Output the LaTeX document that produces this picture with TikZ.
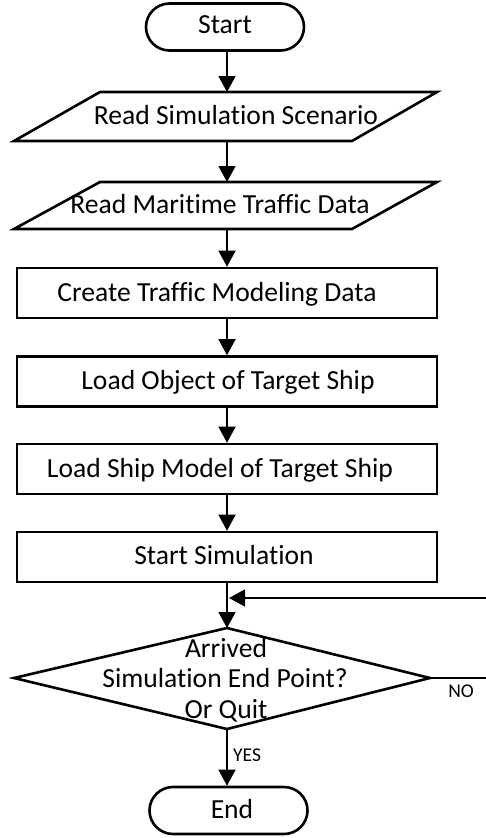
\documentclass[tikz,border=0pt]{standalone}
\usepackage{fontspec}
\setmainfont{Carlito}[Ligatures={NoCommon}]
\usetikzlibrary{arrows.meta,shapes.misc}
\begin{document}
\begin{tikzpicture}[x=1pt,y=-1pt,
  shp/.style={line width=2.6pt, line join=miter},
  term/.style={shp, draw, rounded rectangle, minimum width=158pt, minimum height=47pt, inner sep=0pt},
  procbox/.style={shp, draw, rectangle, minimum width=420pt, minimum height=50pt, inner sep=0pt},
  conn/.style={line width=1.5pt, -{Triangle[length=16pt,width=17pt]}},
  lbl/.style={font=\fontsize{27.6}{32}\selectfont, anchor=base, inner sep=0pt},
  small/.style={font=\fontsize{19.5}{23}\selectfont, anchor=base, inner sep=0pt}]
\useasboundingbox (0,0) rectangle (486,838);
\fill[white] (0,0) rectangle (486,838);

% terminals
\node[term] (start) at (225,27) {};
\node[lbl] (starttxt) at (225,33) {Start};
\node[term] (end) at (228.5,810.5) {};
\node[lbl] (endtxt) at (232,818) {End};

% parallelograms
\draw[shp] (100,92) -- (437,92) -- (352,141) -- (14,141) -- cycle;
\coordinate (p1t) at (227,92);
\coordinate (p1b) at (227,141);
\node[lbl] (p1txt) at (236,124) {Read Simulation Scenario};
\draw[shp] (100,182) -- (437,182) -- (352,229) -- (14,229) -- cycle;
\coordinate (p2t) at (227,182);
\coordinate (p2b) at (227,229);
\node[lbl] (p2txt) at (220,213) {Read Maritime Traffic Data};

% process boxes
\node[procbox] (r1) at (227,293) {};
\node[lbl] (r1txt) at (217,301) {Create Traffic Modeling Data};
\node[procbox] (r2) at (227,381.5) {};
\node[lbl] (r2txt) at (228,389) {Load Object of Target Ship};
\node[procbox] (r3) at (227,469) {};
\node[lbl] (r3txt) at (220,477) {Load Ship Model of Target Ship};
\node[procbox] (r4) at (227,557) {};
\node[lbl] (r4txt) at (224,564) {Start Simulation};

% decision
\coordinate (dt) at (227,628);
\coordinate (dr) at (430,678);
\coordinate (db) at (227,729);
\coordinate (dl) at (14,678);
\draw[shp] (dt) -- (dr) -- (db) -- (dl) -- cycle;
\node[lbl] (d1) at (226,657) {Arrived};
\node[lbl] (d2) at (225,687) {Simulation End Point?};
\node[lbl] (d3) at (226,718) {Or Quit};

% connectors
\draw[conn] (start.south -| p1t) -- (p1t);
\draw[conn] (p1b) -- (p2t);
\draw[conn] (p2b) -- (r1.north);
\draw[conn] (r1.south) -- (r2.north);
\draw[conn] (r2.south) -- (r3.north);
\draw[conn] (r3.south) -- (r4.north);
\draw[conn] (r4.south) -- (dt);
\draw[conn] (db) -- (end.north -| db);

\coordinate (fbin) at (486,598);
\coordinate (fbend) at (229,598);
\draw[conn] (fbin) -- (fbend);
\coordinate (noend) at (486,678);
\draw[line width=1.5pt] (dr) -- (noend);

\node[small] (no) at (461,697) {NO};
\node[small, anchor=base west] (yes) at (233,761) {YES};
\end{tikzpicture}
\end{document}
